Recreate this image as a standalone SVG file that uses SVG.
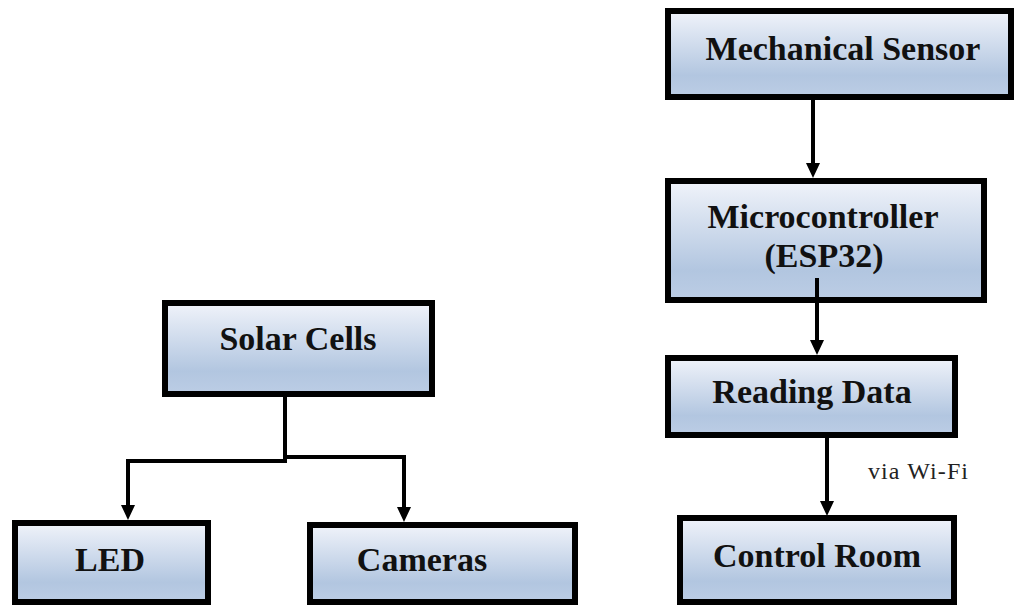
<svg xmlns="http://www.w3.org/2000/svg" width="1014" height="605" viewBox="0 0 1014 605">
  <style>
    .box { stroke: #000; stroke-width: 6; fill: url(#grad); }
    .lbl { font-family: "Liberation Serif", "Times New Roman", serif; font-weight: bold; font-size: 34px; fill: #111; text-anchor: middle; }
    .note { font-family: "Liberation Serif", "Times New Roman", serif; font-size: 24px; fill: #222; }
    .wire { stroke: #000; stroke-width: 4; fill: none; }
  </style>
  <defs>
    <linearGradient id="grad" x1="0" y1="0" x2="0" y2="1">
      <stop offset="0" stop-color="#f0f3fa"/>
      <stop offset="0.75" stop-color="#b2c6e0"/>
      <stop offset="1" stop-color="#bccde5"/>
    </linearGradient>
    <marker id="arr" markerUnits="userSpaceOnUse" markerWidth="16" markerHeight="16" viewBox="0 0 16 16" refX="2" refY="8" orient="auto">
      <path d="M0,1 L15,8 L0,15 z" fill="#000"/>
    </marker>
  </defs>
  <rect width="1014" height="605" fill="#fff"/>

  <g id="connectors">
    <line class="wire" x1="813" y1="99" x2="813" y2="165" marker-end="url(#arr)"/>
    <line class="wire" x1="817" y1="278" x2="817" y2="342" marker-end="url(#arr)"/>
    <line class="wire" x1="827" y1="437" x2="827" y2="503" marker-end="url(#arr)"/>
    <polyline class="wire" points="285,397 285,461"/>
    <polyline class="wire" points="287,461 128,461 128,507" marker-end="url(#arr)"/>
    <polyline class="wire" points="285,457 404,457 404,509" marker-end="url(#arr)"/>
  </g>

  <g id="mechanical-sensor">
    <rect class="box" x="668" y="11" width="343" height="86"/>
    <text class="lbl" x="843" y="60">Mechanical Sensor</text>
  </g>
  <g id="microcontroller">
    <rect class="box" x="668" y="181" width="316" height="119"/>
    <text class="lbl" x="823" y="228">Microcontroller</text>
    <text class="lbl" x="824" y="267">(ESP32)</text>
  </g>
  <line class="wire" x1="817" y1="278" x2="817" y2="300"/>
  <g id="reading-data">
    <rect class="box" x="668" y="358" width="287" height="77"/>
    <text class="lbl" x="812" y="403">Reading Data</text>
  </g>
  <g id="via-wifi-label">
    <text class="note" x="868" y="479" textLength="100" lengthAdjust="spacing">via Wi-Fi</text>
  </g>
  <g id="control-room">
    <rect class="box" x="680" y="518" width="274" height="84"/>
    <text class="lbl" x="817" y="567">Control Room</text>
  </g>
  <g id="solar-cells">
    <rect class="box" x="165" y="303" width="267" height="91"/>
    <text class="lbl" x="298" y="350">Solar Cells</text>
  </g>
  <g id="led">
    <rect class="box" x="15" y="523" width="193" height="79"/>
    <text class="lbl" x="110" y="571">LED</text>
  </g>
  <g id="cameras">
    <rect class="box" x="310" y="525" width="265" height="77"/>
    <text class="lbl" x="422" y="571">Cameras</text>
  </g>
</svg>
